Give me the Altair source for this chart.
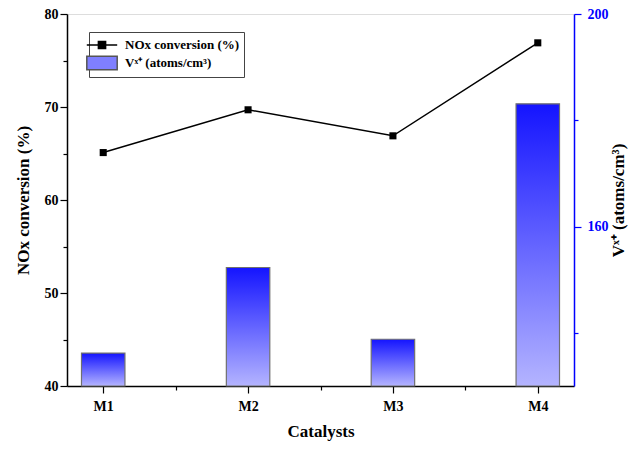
import json
import altair as alt
import pandas as pd

catalysts = ["M1", "M2", "M3", "M4"]
positions = [1, 2, 3, 4]
nox_conversion = [65.1, 69.7, 66.9, 76.9]
vx_atoms = [136.2, 152.3, 138.8, 183.1]
series_names = ["NOx conversion (%)", "Vˣ⁺ (atoms/cm³)"]

df = pd.DataFrame({
    "catalyst": catalysts,
    "pos": positions,
    "nox": nox_conversion,
    "vx": vx_atoms,
    "series": [series_names[0]] * len(catalysts),
})
df["lo"] = df["pos"] - 0.15
df["hi"] = df["pos"] + 0.15

FONT = "Liberation Serif"
label_expr = "datum.value % 1 === 0 ? " + json.dumps(catalysts) + "[datum.value - 1] : ''"

x_scale = alt.Scale(domain=[0.75, 4.25], nice=False, zero=False)
x_axis = alt.Axis(
    title="Catalysts", values=[1, 1.5, 2, 2.5, 3, 3.5, 4], labelExpr=label_expr,
    grid=False, domainColor="black", domainWidth=1.5, tickColor="black", tickWidth=1.2,
    tickSize={"condition": {"test": "datum.value % 1 === 0", "value": 7}, "value": 4},
    labelFont=FONT, labelFontSize=14, labelFontWeight="bold", labelColor="black",
    labelPadding=6, titleFont=FONT, titleFontSize=17, titleFontWeight="bold",
    titleColor="black", titlePadding=10,
)

gradient = {
    "gradient": "linear", "x1": 0, "y1": 0, "x2": 0, "y2": 1,
    "stops": [{"offset": 0, "color": "#1414ff"}, {"offset": 1, "color": "#b4b4ff"}],
}

bars = alt.Chart(df).mark_bar(fill=gradient, stroke="#707070", strokeWidth=1.2).encode(
    x=alt.X("lo:Q", scale=x_scale, axis=x_axis),
    x2="hi:Q",
    y=alt.Y("vx:Q", scale=alt.Scale(domain=[130, 200], nice=False, zero=False),
            axis=alt.Axis(
                orient="right", title="Vˣ⁺ (atoms/cm³)", values=[140, 160, 180, 200],
                labelExpr="datum.value % 40 === 0 ? datum.label : ''",
                grid=False, domainColor="#0000ff", domainWidth=1.5,
                tickColor="#0000ff", tickWidth=1.2,
                tickSize={"condition": {"test": "datum.value % 40 === 0", "value": 7}, "value": 4},
                labelFont=FONT, labelFontSize=14, labelFontWeight="bold", labelColor="#0000ff",
                labelPadding=6,
                titleFont=FONT, titleFontSize=17, titleFontWeight="bold", titleColor="black",
                titleAngle=270, titleBaseline="top", titlePadding=2,
            )),
    y2=alt.datum(130),
)

y_left = alt.Scale(domain=[40, 80], nice=False, zero=False)
y_left_axis = alt.Axis(
    orient="left", title="NOx conversion (%)", values=list(range(40, 81, 5)),
    labelExpr="datum.value % 10 === 0 ? datum.label : ''",
    grid=False, domainColor="black", domainWidth=1.5, tickColor="black", tickWidth=1.2,
    tickSize={"condition": {"test": "datum.value % 10 === 0", "value": 7}, "value": 4},
    labelFont=FONT, labelFontSize=14, labelFontWeight="bold", labelColor="black",
    titleFont=FONT, titleFontSize=17, titleFontWeight="bold", titleColor="black",
    titlePadding=12,
)

line = alt.Chart(df).mark_line(color="black", strokeWidth=1.5).encode(
    x=alt.X("pos:Q", scale=x_scale),
    y=alt.Y("nox:Q", scale=y_left, axis=y_left_axis),
)
pts = alt.Chart(df).mark_square(color="black", size=50, opacity=1).encode(
    x=alt.X("pos:Q", scale=x_scale),
    y=alt.Y("nox:Q", scale=y_left),
)

line_path = "M-1.9,0H1.9M-0.45,-0.45H0.45V0.45H-0.45Z"
box_path = "M-1.9,-0.85H1.9V0.85H-1.9Z"
legend_cfg = alt.Legend(
    title=None, orient="none", legendX=22, legendY=18,
    labelFont=FONT, labelFontSize=13, labelFontWeight="bold", labelColor="black",
    symbolSize=256, symbolOpacity=1, symbolStrokeWidth=1.5,
    strokeColor="#444", padding=4, rowPadding=1, labelOffset=14, offset=0,
)
legend_layer = alt.Chart(df).mark_point(opacity=0, filled=True).encode(
    x=alt.X("pos:Q", scale=x_scale),
    y=alt.Y("nox:Q", scale=y_left),
    fill=alt.Fill("series:N", scale=alt.Scale(domain=series_names, range=["black", "#7f7fff"]),
                  legend=legend_cfg),
    stroke=alt.Stroke("series:N", scale=alt.Scale(domain=series_names, range=["black", "#555555"]),
                      legend=legend_cfg),
    shape=alt.Shape("series:N", scale=alt.Scale(domain=series_names, range=[line_path, box_path]),
                    legend=legend_cfg),
)

left_group = alt.layer(line, pts, legend_layer)

chart = alt.layer(bars, left_group).resolve_scale(y="independent").properties(
    width=507, height=372,
    autosize=alt.AutoSizeParams(type="none"),
    padding={"left": 59, "top": 6, "right": 55, "bottom": 56},
).configure_view(stroke="black", strokeWidth=1.5).configure(background="white")

chart.save("out.html", embed_options={"renderer": "svg", "actions": False})
